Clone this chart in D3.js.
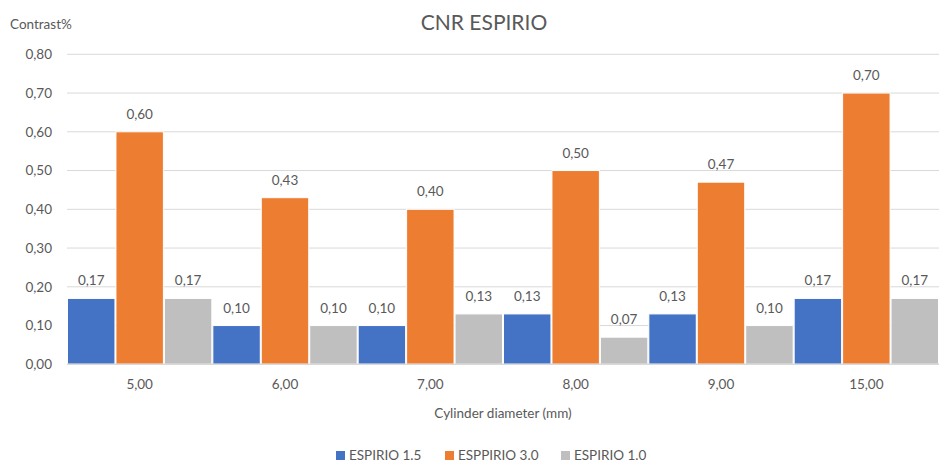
<!DOCTYPE html>
<html>
<head>
<meta charset="utf-8">
<script src="https://cdn.jsdelivr.net/npm/d3@7"></script>
<style>
  html, body { margin: 0; padding: 0; background: #fff; }
  svg { display: block; font-family: Lato, "Open Sans", sans-serif; }
</style>
</head>
<body>
<svg id="chart" width="939" height="463"></svg>
<script>
// Cylinder diameters (mm)
const categories = ["5,00", "6,00", "7,00", "8,00", "9,00", "15,00"];
// CNR per protocol
const espirio15 = [0.17, 0.10, 0.10, 0.13, 0.13, 0.17];
const esppirio30 = [0.60, 0.43, 0.40, 0.50, 0.47, 0.70];
const espirio10 = [0.17, 0.10, 0.13, 0.07, 0.10, 0.17];
const seriesNames = ["ESPIRIO 1.5", "ESPPIRIO 3.0", "ESPIRIO 1.0"];
const yTicks = [0, 0.1, 0.2, 0.3, 0.4, 0.5, 0.6, 0.7, 0.8];

const series = [espirio15, esppirio30, espirio10];
const colors = ["#4472c4", "#ed7d31", "#bfbfbf"];
const textColor = "#595959";
const fmt = v => d3.format(".2f")(v).replace(".", ",");

const svg = d3.select("#chart");
const margin = { left: 67, right: 0, top: 54.3, bottom: 98.7 };
const W = 939, H = 463;

const y = d3.scaleLinear().domain([0, 0.8]).range([H - margin.bottom, margin.top]);
const x0 = d3.scaleBand().domain(categories).range([margin.left, W - margin.right]).paddingInner(0).paddingOuter(0);
const x1 = d3.scaleBand().domain(d3.range(series.length)).range([0, x0.bandwidth()]).padding(0);

// gridlines
svg.append("g").selectAll("line").data(yTicks).join("line")
  .attr("x1", margin.left).attr("x2", W - margin.right)
  .attr("y1", d => y(d)).attr("y2", d => y(d))
  .attr("stroke", "#d9d9d9").attr("stroke-width", 1);

// y tick labels
svg.append("g").selectAll("text").data(yTicks).join("text")
  .attr("x", 52).attr("y", d => y(d)).attr("dy", "0.35em")
  .attr("text-anchor", "end").attr("fill", textColor).attr("font-size", 13.5)
  .text(fmt);

// bars
const groups = svg.append("g").selectAll("g").data(categories).join("g")
  .attr("transform", d => `translate(${x0(d)},0)`);

groups.selectAll("rect").data((d, i) => series.map((s, k) => ({ k, v: s[i] }))).join("rect")
  .attr("x", d => x1(d.k) + 0.5)
  .attr("width", x1.bandwidth() - 1)
  .attr("y", d => y(d.v))
  .attr("height", d => y(0) - y(d.v))
  .attr("fill", d => colors[d.k])
  .attr("stroke", "#fff").attr("stroke-width", 1);

groups.selectAll("text").data((d, i) => series.map((s, k) => ({ k, v: s[i] }))).join("text")
  .attr("x", d => x1(d.k) + x1.bandwidth() / 2)
  .attr("y", d => y(d.v) - 13)
  .attr("text-anchor", "middle").attr("fill", textColor).attr("font-size", 13.5)
  .text(d => fmt(d.v));

// x axis line
svg.append("line")
  .attr("x1", margin.left).attr("x2", W - margin.right)
  .attr("y1", y(0)).attr("y2", y(0))
  .attr("stroke", "#d9d9d9").attr("stroke-width", 1.5);

// x tick labels
svg.append("g").selectAll("text").data(categories).join("text")
  .attr("x", d => x0(d) + x0.bandwidth() / 2)
  .attr("y", y(0) + 25)
  .attr("text-anchor", "middle").attr("fill", textColor).attr("font-size", 13.5)
  .text(d => d);

// titles
svg.append("text").attr("x", 484).attr("y", 30).attr("text-anchor", "middle")
  .attr("fill", textColor).attr("font-size", 21).text("CNR ESPIRIO");
svg.append("text").attr("x", 10).attr("y", 29)
  .attr("fill", textColor).attr("font-size", 13.5).text("Contrast%");
svg.append("text").attr("x", 503).attr("y", 418).attr("text-anchor", "middle")
  .attr("fill", textColor).attr("font-size", 13.5).text("Cylinder diameter (mm)");

// legend
const legendX = [336, 445, 561];
const legend = svg.append("g").selectAll("g").data(seriesNames).join("g")
  .attr("transform", (d, i) => `translate(${legendX[i]},460)`);
legend.append("rect").attr("x", 0).attr("y", -9).attr("width", 9).attr("height", 9)
  .attr("fill", (d, i) => colors[i]);
legend.append("text").attr("x", 13).attr("y", 0)
  .attr("fill", textColor).attr("font-size", 13.5).text(d => d);
</script>
</body>
</html>
